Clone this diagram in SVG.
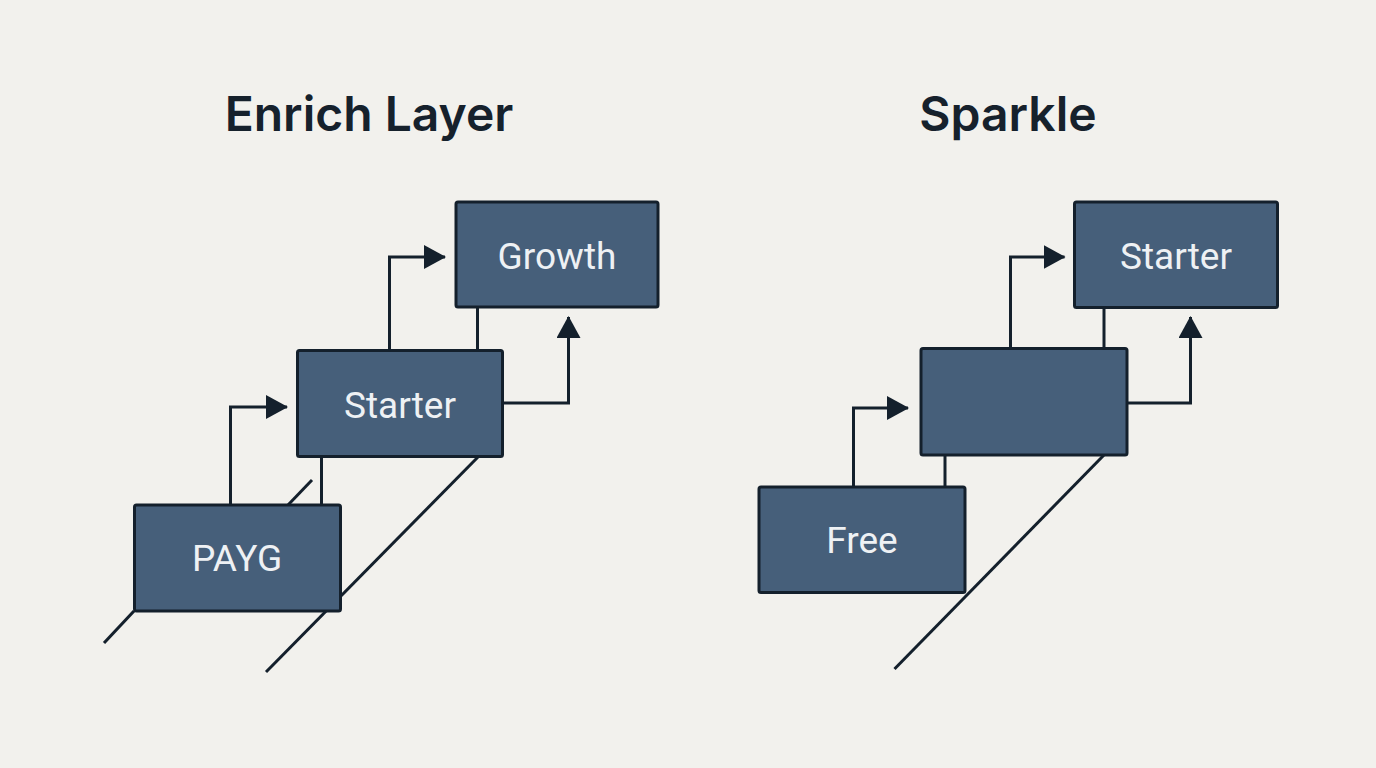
<svg xmlns="http://www.w3.org/2000/svg" width="1376" height="768" viewBox="0 0 1376 768">
<defs>
<style>
.bg{fill:#f2f1ed}
.box{fill:#465f7a;stroke:#14202c;stroke-width:3}
.lbl{font-family:Roboto,"Liberation Sans",sans-serif;font-size:37px;fill:#eef1f4;text-anchor:middle}
.ttl{font-family:Inter,Roboto,"Liberation Sans",sans-serif;font-size:48px;font-weight:600;fill:#16212c;text-anchor:middle}
.ln{fill:none;stroke:#14202c;stroke-width:3}
.ar{fill:none;stroke:#14202c;stroke-width:3;marker-end:url(#ah)}
</style>
<marker id="ah" viewBox="0 0 22 24" refX="21" refY="12" markerWidth="22" markerHeight="24" markerUnits="userSpaceOnUse" orient="auto">
<path d="M0,0 L22,12 L0,24 Z" fill="#14202c"/>
</marker>
</defs>
<rect class="bg" x="0" y="0" width="1376" height="768"/>
<text class="ttl" x="369" y="131">Enrich Layer</text>
<text class="ttl" x="1008" y="131">Sparkle</text>
<g id="connectors">
<line class="ln" x1="478" y1="457" x2="266" y2="672"/>
<line class="ln" x1="312" y1="480" x2="288" y2="505"/>
<line class="ln" x1="134" y1="611" x2="104" y2="643"/>
<line class="ln" x1="477.5" y1="307" x2="477.5" y2="350"/>
<line class="ln" x1="321.5" y1="456" x2="321.5" y2="505"/>
<polyline class="ar" points="230.5,505 230.5,407 287,407"/>
<polyline class="ar" points="389.5,350 389.5,257 445,257"/>
<polyline class="ar" points="502,403 568.5,403 568.5,317"/>
<line class="ln" x1="1104" y1="455" x2="894.5" y2="669"/>
<line class="ln" x1="1104" y1="307" x2="1104" y2="348"/>
<line class="ln" x1="945" y1="455" x2="945" y2="487"/>
<polyline class="ar" points="853.5,487 853.5,408 908,408"/>
<polyline class="ar" points="1010.5,348 1010.5,257 1064.5,257"/>
<polyline class="ar" points="1127,403 1190.5,403 1190.5,317"/>
</g>
<g id="growth"><rect class="box" x="456" y="202" width="202" height="105" rx="2"/><text class="lbl" x="557" y="269">Growth</text></g>
<g id="starter-l"><rect class="box" x="297.5" y="350.5" width="205" height="106" rx="2"/><text class="lbl" x="400" y="418">Starter</text></g>
<g id="payg"><rect class="box" x="134.5" y="505" width="206" height="106" rx="2"/><text class="lbl" x="237" y="571">PAYG</text></g>
<g id="starter-r"><rect class="box" x="1074.5" y="202" width="203" height="105.5" rx="2"/><text class="lbl" x="1176" y="269">Starter</text></g>
<g id="middle"><rect class="box" x="921" y="348.5" width="206" height="106.5" rx="2"/></g>
<g id="free"><rect class="box" x="759" y="487" width="206" height="105.5" rx="2"/><text class="lbl" x="862" y="553">Free</text></g>
</svg>
